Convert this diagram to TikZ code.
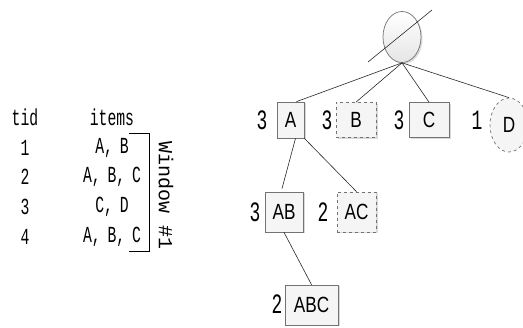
\documentclass[tikz,border=0pt]{standalone}
\usepackage{fontspec}
\usetikzlibrary{shapes.geometric,shadows}
\newfontfamily\tabfont{Liberation Mono}[FakeStretch=0.64]
\newfontfamily\itemfont{Liberation Sans}[FakeStretch=0.78]
\newfontfamily\winfont{Liberation Mono}
\begin{document}
\begin{tikzpicture}[x=1pt,y=-1pt,
  edge/.style={draw=black!85, line width=0.6pt},
  softshadow/.style={drop shadow={shadow xshift=1.5pt, shadow yshift=-1.5pt, opacity=0.25, fill=black!60}},
  itembox/.style={rectangle, draw=black!55, line width=0.7pt, fill=black!4, inner sep=0pt,
    font=\itemfont\fontsize{22}{24}\selectfont, softshadow},
  dashbox/.style={itembox, dashed},
  count/.style={font=\tabfont\fontsize{28}{30}\selectfont, inner sep=0pt},
  cell/.style={font=\tabfont\fontsize{23}{25}\selectfont, inner sep=0pt}]
\useasboundingbox (0,0) rectangle (523,328);

% transaction table
\node[cell] (h1) at (25,117) {tid};
\node[cell] (h2) at (112,117) {items};
\node[cell] (t1) at (25,148) {1};
\node[cell] (t2) at (25,177) {2};
\node[cell] (t3) at (25,207) {3};
\node[cell] (t4) at (25,237) {4};
\node[cell] (i1) at (112,148) {A,\kern-2pt{} B};
\node[cell] (i2) at (112,177) {A,\kern-2pt{} B,\kern-2pt{} C};
\node[cell] (i3) at (112,207) {C,\kern-2pt{} D};
\node[cell] (i4) at (112,237) {A,\kern-2pt{} B,\kern-2pt{} C};

% sliding window bracket
\coordinate (wt) at (129,133);
\coordinate (wb) at (129,251);
\draw[line width=0.7pt] (wt) -- ++(20,0) -- ++(0,118) -- (wb);
\node[font=\winfont\fontsize{20}{22}\selectfont, rotate=-90, inner sep=0pt] (win) at (166,196) {Window \#1};

% prefix tree
\node[ellipse, draw=black!55, line width=0.7pt, minimum width=38, minimum height=51, inner sep=0pt,
  top color=white, bottom color=black!10, softshadow] (root) at (402,37) {};
\node[itembox, minimum width=27, minimum height=36] (A) at (290.5,120) {A};
\node[dashbox, minimum width=40, minimum height=35] (B) at (356,120) {B};
\node[itembox, minimum width=40, minimum height=35] (C) at (429,120) {C};
\node[ellipse, draw=black!55, dashed, line width=0.7pt, fill=black!4, minimum width=38, minimum height=54,
  inner sep=0pt, font=\itemfont\fontsize{22}{24}\selectfont] (D) at (509,125) {D};
\node[itembox, minimum width=38, minimum height=40] (AB) at (284,212) {AB};
\node[dashbox, minimum width=39, minimum height=40] (AC) at (356.5,212) {AC};
\node[itembox, minimum width=53, minimum height=40] (ABC) at (311.5,305) {ABC};

% support counts
\node[count] (cA) at (262,120) {3};
\node[count] (cB) at (327,120) {3};
\node[count] (cC) at (399,120) {3};
\node[count] (cD) at (477,120) {1};
\node[count] (cAB) at (255,212) {3};
\node[count] (cAC) at (323,212) {2};
\node[count] (cABC) at (277,304) {2};

% tree edges
\draw[edge] (root.south) -- ([xshift=6]A.north);
\draw[edge] (root.south) -- (B.north);
\draw[edge] (root.south) -- (C.north);
\draw[edge] (root.south) -- (D.north);
\draw[edge] ([xshift=5]A.south) -- ([xshift=-2,yshift=3]AB.north);
\draw[edge] (A.south east) -- (AC.north);
\draw[edge] (AB.south) -- (ABC.north);

% root is struck through
\coordinate (s1) at (368,62);
\coordinate (s2) at (432,10);
\draw[edge] (s1) -- (s2);
\end{tikzpicture}
\end{document}
